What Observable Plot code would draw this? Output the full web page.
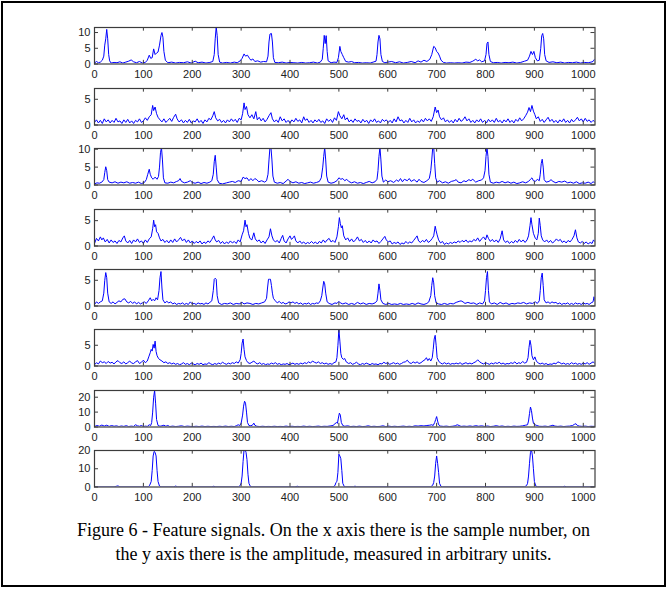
<!DOCTYPE html>
<html><head><meta charset="utf-8">
<script src="https://cdn.jsdelivr.net/npm/d3@7"></script>
<script src="https://cdn.jsdelivr.net/npm/@observablehq/plot@0.6"></script>
<style>
html,body{margin:0;padding:0;background:#fff;}
#fig{position:relative;width:667px;height:589px;overflow:hidden;background:#fff;}
#border{position:absolute;left:1px;top:1px;width:661px;height:582px;border:2px solid #000;}
#caption{position:absolute;left:0;width:667px;top:518px;text-align:center;font-family:"Liberation Serif","Times New Roman",serif;font-size:18px;line-height:24px;color:#000;}
</style></head><body>
<div id="fig"><div id="border"></div><div id="caption">Figure 6 - Feature signals. On the x axis there is the sample number, on<br>the y axis there is the amplitude, measured in arbitrary units.</div></div>
<script>
const xTicks = [0,100,200,300,400,500,600,700,800,900,1000];
const xMax = 1024;
const yMaxes = [11.6, 7.1, 10.2, 7.2, 7.1, 8.8, 24.5, 20];
const yTickSets = [[0,5,10],[0,5],[0,5,10],[0,5],[0,5],[0,5],[0,10,20],[0,10,20]];

const s1 = [[0,0.3],[4,0.8],[8,0.4],[12,0.6],[16,1.2],[19,2.5],[21,6],[23,8],[25,11],[27,8],[29,3],[31,1],[34,0.3],[40,0.5],[46,0.4],[52,0.7],[58,0.3],[64,0.6],[70,0.9],[75,1.3],[80,0.7],[86,0.4],[92,0.8],[98,0.3],[104,0.5],[108,1.2],[112,2.8],[115,1.8],[118,2],[121,4.8],[124,3],[127,3.5],[130,3.8],[133,6],[136,9],[138,10],[140,8.5],[142,4],[145,1.2],[150,0.4],[158,0.6],[166,0.3],[174,0.5],[182,0.4],[190,0.7],[198,0.3],[206,0.9],[212,0.4],[220,0.6],[228,0.3],[236,0.5],[242,0.8],[245,3],[247,8],[249,11.8],[251,9],[253,3],[256,0.6],[262,0.3],[270,0.5],[278,0.3],[286,0.6],[292,0.4],[298,1],[302,1.8],[306,3.2],[309,2.5],[313,2.8],[317,1.8],[320,1.2],[324,1.6],[328,0.8],[334,1],[340,0.6],[346,0.8],[352,0.7],[355,2.5],[357,7],[359,9.5],[362,9.7],[364,7],[366,2],[369,0.5],[376,0.4],[384,0.6],[392,0.3],[400,0.5],[408,0.4],[416,0.3],[424,0.5],[432,0.3],[440,0.4],[448,0.6],[456,0.3],[462,0.6],[466,1.5],[468,5],[470,9.1],[472,6.5],[474,9],[476,4],[478,1],[484,0.4],[490,0.6],[496,0.5],[499,2],[502,5.6],[504,4],[507,3],[510,2],[514,0.8],[520,0.6],[526,0.8],[532,0.4],[540,0.5],[548,0.3],[556,0.4],[564,0.3],[570,0.6],[576,0.9],[578,3],[580,7],[582,9.1],[584,8],[586,3],[589,0.8],[594,0.4],[600,0.6],[608,0.8],[616,0.4],[624,0.7],[632,0.3],[640,0.5],[648,0.8],[656,0.4],[662,1],[668,0.6],[674,1.2],[680,0.8],[686,1.5],[690,3],[694,5.6],[697,5.2],[700,4],[703,3.5],[706,2.5],[709,1.2],[714,0.5],[720,0.3],[728,0.4],[736,0.3],[744,0.4],[752,0.3],[760,0.6],[768,0.5],[774,0.9],[780,1.5],[784,1],[788,1.3],[792,0.7],[798,1],[801,3],[803,6.5],[805,7],[807,3],[810,0.8],[816,0.4],[824,0.5],[832,0.3],[840,0.5],[848,0.4],[856,0.6],[864,0.3],[872,0.5],[880,0.9],[886,1.2],[890,2.5],[893,4],[896,3],[899,4],[902,2],[906,1],[910,1.2],[913,5],[915,9],[917,9.7],[919,8],[921,3],[924,1],[930,0.5],[938,0.7],[946,0.4],[954,0.6],[962,0.3],[970,0.5],[978,0.4],[986,0.6],[994,0.3],[1002,0.5],[1010,0.4],[1016,0.6],[1020,0.8],[1023,1.5]];

const s2 = [[0,0.5],[4,1],[8,0.4],[12,0.9],[16,0.3],[20,1.2],[24,0.6],[28,1],[32,0.4],[36,0.9],[40,0.5],[44,1.3],[48,0.6],[52,0.8],[56,0.3],[60,1],[64,0.5],[68,1.1],[72,0.4],[76,0.8],[80,0.3],[84,0.9],[88,0.6],[92,1.2],[96,0.5],[100,0.8],[104,1.4],[108,0.9],[112,1.6],[116,2],[119,3.8],[121,2.8],[124,3.5],[127,2.2],[130,1.5],[134,1],[138,0.6],[142,1.2],[146,0.5],[150,0.9],[154,1.3],[158,0.7],[162,1.5],[166,2.1],[169,1.2],[173,0.6],[178,1],[182,0.4],[186,0.9],[190,0.5],[194,1.1],[198,0.4],[202,0.8],[206,0.6],[210,1.2],[214,0.5],[218,0.9],[222,0.3],[226,1],[230,0.6],[234,1.3],[238,1],[242,1.8],[245,2.6],[248,1.4],[252,0.8],[256,1.1],[260,0.5],[264,0.9],[268,0.4],[272,1],[276,0.6],[280,1.2],[284,0.7],[288,1.1],[292,0.5],[296,1.3],[300,1],[303,2.2],[306,4.3],[308,3],[311,3.6],[314,2],[318,1.4],[322,2],[326,1.2],[330,2.6],[333,1],[337,1.5],[341,0.8],[345,1.3],[349,0.6],[353,1.1],[357,1.8],[361,2.4],[364,1.2],[368,0.6],[372,1],[376,0.5],[380,1.6],[384,0.8],[388,1.2],[392,0.5],[396,0.9],[400,0.4],[404,1],[408,0.6],[412,1.3],[416,0.7],[420,1],[424,0.4],[428,1.6],[431,0.9],[435,1.2],[439,0.5],[443,0.9],[447,0.4],[451,1],[455,0.6],[459,1.1],[463,0.5],[467,0.8],[471,0.3],[475,1.2],[479,0.7],[483,1.1],[487,0.5],[491,1.4],[495,0.9],[499,2.6],[502,1.8],[506,1.2],[510,2],[513,1],[517,1.4],[521,0.6],[525,1],[529,0.5],[533,1.2],[537,0.7],[541,0.9],[545,0.4],[549,1.1],[553,0.6],[557,0.9],[561,0.3],[565,1],[569,0.6],[573,1.2],[577,0.5],[581,0.8],[585,0.4],[589,1.1],[593,0.7],[597,1],[601,0.5],[605,0.9],[609,0.4],[613,1.2],[617,0.6],[621,1.6],[625,0.8],[629,1],[633,0.4],[637,0.9],[641,0.5],[645,1.3],[649,0.6],[653,1],[657,0.4],[661,0.8],[665,0.5],[669,1.1],[673,0.6],[677,1.3],[681,0.8],[685,1.2],[689,0.7],[693,1.6],[697,3.5],[700,2.4],[703,2.9],[706,1.6],[710,1],[714,1.4],[718,0.6],[722,1],[726,0.5],[730,0.9],[734,0.4],[738,1.1],[742,0.6],[746,1.3],[750,0.7],[754,1],[758,1.6],[762,0.8],[766,1.2],[770,0.5],[774,0.9],[778,0.4],[782,1],[786,0.6],[790,1.2],[794,0.5],[798,0.9],[802,0.4],[806,1.1],[810,0.6],[814,1],[818,0.5],[822,1.3],[826,0.6],[830,0.9],[834,0.4],[838,1],[842,0.6],[846,1.2],[850,0.5],[854,0.9],[858,0.4],[862,1.1],[866,0.7],[870,1.4],[874,0.8],[878,1.2],[882,1.8],[886,2.5],[889,3.4],[892,2.6],[895,3.8],[898,2.7],[901,2],[904,1.2],[908,1.6],[912,0.7],[916,1.1],[920,0.5],[924,1],[928,1.5],[932,0.7],[936,1.1],[940,0.5],[944,0.9],[948,0.4],[952,1],[956,0.6],[960,1.2],[964,0.5],[968,0.9],[972,0.4],[976,1.1],[980,0.6],[984,1],[988,1.5],[992,0.8],[996,1.2],[1000,0.6],[1004,1.3],[1008,0.7],[1012,1],[1016,0.5],[1020,0.9],[1024,0.6]];

const s3 = [[0,0.3],[5,0.6],[10,0.5],[15,0.8],[19,1.5],[21,3.5],[23,5.1],[25,4],[27,1.5],[30,0.8],[36,0.6],[42,0.9],[48,0.5],[54,0.8],[60,0.6],[66,0.9],[72,0.5],[78,0.7],[84,0.5],[90,0.8],[96,0.4],[102,0.7],[106,1.5],[109,3],[112,4.4],[114,3],[117,2],[120,1.6],[124,2.2],[128,1.6],[131,2.4],[133,5],[135,9],[137,10.5],[139,7],[141,2],[144,0.6],[150,0.5],[156,0.8],[162,0.6],[168,1],[172,1.2],[175,1.8],[178,1],[184,0.6],[190,0.8],[196,1.2],[200,0.7],[206,0.5],[212,0.8],[218,0.4],[224,0.7],[230,0.5],[236,0.8],[240,1.2],[243,3],[245,6.5],[247,8.3],[249,5],[251,1.5],[255,0.5],[262,0.3],[270,0.6],[276,0.8],[282,1],[288,0.7],[294,1.2],[300,1],[304,2.2],[308,1.8],[312,2],[316,1.2],[320,1.8],[324,1.2],[328,1.8],[332,1.5],[336,0.9],[342,1.2],[348,0.8],[352,1.2],[355,3],[357,7],[359,10.5],[361,10.5],[363,7],[365,2.5],[368,0.8],[374,0.5],[380,0.7],[386,0.4],[392,1.1],[396,1.6],[400,1],[406,0.6],[412,0.9],[418,0.5],[424,0.7],[430,0.4],[436,0.6],[442,0.8],[448,0.5],[454,0.7],[460,1],[464,2],[467,5],[469,8],[471,10.5],[473,7],[475,2.5],[478,0.8],[484,0.5],[490,0.7],[496,1.2],[500,2],[504,1.6],[508,1.8],[512,1.2],[516,1.6],[520,1],[526,0.6],[532,0.9],[538,0.5],[544,0.7],[550,0.4],[556,0.7],[562,1],[568,0.6],[574,0.9],[578,1.6],[580,4],[582,8],[584,10.5],[586,7],[588,2.5],[591,0.8],[596,1.4],[600,0.9],[606,1.2],[612,0.7],[618,1.4],[622,1],[626,1.8],[630,0.9],[634,1.6],[640,1.2],[644,1.8],[648,1],[654,1.5],[660,0.8],[664,1.6],[668,1],[674,0.7],[680,1.2],[685,1.8],[688,4],[690,7],[692,10.5],[694,10.5],[696,6],[698,2],[701,0.8],[706,1.2],[712,0.6],[718,0.9],[724,0.5],[730,1],[736,1.2],[740,1.5],[744,0.8],[750,0.6],[756,1.2],[760,0.9],[766,1.5],[770,1.2],[774,1.6],[780,0.8],[786,1.2],[792,1.4],[796,2],[799,4],[801,8],[803,10.5],[805,8],[807,3],[810,0.8],[816,0.5],[822,0.8],[828,0.6],[834,1],[840,0.6],[846,0.9],[852,0.5],[858,0.8],[864,0.4],[870,0.6],[876,0.9],[882,0.6],[888,1],[892,1.6],[895,2],[898,1.2],[902,1],[906,1.6],[910,1.2],[912,3],[914,6],[916,7.2],[918,5],[920,1.5],[924,0.8],[930,1],[934,1.5],[938,1],[944,0.6],[950,1],[956,0.8],[962,1.1],[968,0.6],[974,0.8],[980,0.5],[986,0.9],[992,0.4],[998,0.6],[1004,0.5],[1010,0.8],[1016,0.4],[1020,0.9],[1024,0.6]];

const s4 = [[0,0.5],[4,1.5],[8,1],[12,1.8],[15,1.2],[18,1.6],[22,0.8],[26,1.3],[30,0.6],[34,1.2],[38,0.7],[42,1],[46,0.5],[50,1.1],[54,0.8],[58,1.6],[61,2],[64,1],[68,0.6],[72,1.1],[76,0.5],[80,1.2],[84,0.8],[88,1.4],[92,0.7],[96,1],[100,0.5],[104,1.2],[108,0.7],[112,1.4],[116,1.8],[119,3.4],[121,5.1],[123,3.8],[125,4.2],[127,2.8],[130,2.5],[133,1.6],[136,1],[140,1.3],[144,0.7],[148,1.1],[152,0.6],[156,1.2],[160,0.7],[164,1.4],[168,0.8],[172,1.2],[176,1.7],[180,1],[184,1.4],[188,0.7],[192,1.2],[196,0.6],[200,1],[204,0.5],[208,0.9],[212,0.6],[216,1],[220,0.4],[224,0.8],[228,0.5],[232,1],[236,0.7],[240,1.3],[244,2],[247,1.2],[250,0.8],[254,1.1],[258,0.5],[262,0.9],[266,0.4],[270,0.8],[274,0.5],[278,1],[282,0.6],[286,0.9],[290,0.5],[294,1.2],[298,0.8],[302,2.2],[305,3],[308,5.1],[310,3.8],[312,4.2],[315,2.5],[318,1.5],[322,1.2],[326,2.6],[329,1.4],[333,0.9],[337,1.2],[341,0.6],[345,1],[349,0.5],[353,1.2],[357,1.8],[360,3.4],[363,2],[366,1.2],[370,0.8],[374,1.1],[378,0.6],[382,1.5],[385,2.1],[388,1],[392,0.6],[396,1.4],[400,2],[403,1.3],[406,1.6],[409,2],[412,1],[416,0.6],[420,1],[424,0.5],[428,0.8],[432,0.4],[436,0.7],[440,0.5],[444,0.9],[448,0.5],[452,0.8],[456,0.4],[460,0.9],[464,0.6],[468,1.2],[472,0.7],[476,1.2],[480,1.5],[484,0.8],[488,1.1],[492,0.7],[496,1.8],[499,3.8],[501,5.6],[503,4.4],[505,3.6],[507,4],[510,2],[514,1.2],[518,1.6],[522,0.9],[526,1.4],[530,0.8],[534,1.2],[538,1.8],[542,1],[546,1.3],[550,0.7],[554,1.1],[558,0.6],[562,1],[566,0.6],[570,1.2],[574,0.8],[578,1],[582,0.5],[586,0.9],[590,1.4],[594,1.9],[597,1.2],[601,0.8],[605,1],[609,0.4],[613,0.7],[617,0.5],[621,0.8],[625,0.3],[629,0.6],[633,0.4],[637,0.9],[641,0.5],[645,0.8],[649,0.6],[653,1.1],[657,1.6],[660,2],[663,1],[667,0.7],[671,1.1],[675,0.8],[679,1.3],[683,0.7],[687,1],[691,1.5],[694,2],[697,3.9],[699,3],[701,2.2],[704,1.2],[708,0.6],[712,0.9],[716,0.3],[720,0.6],[724,0.4],[728,0.7],[732,0.5],[736,0.8],[740,0.6],[744,1],[748,0.7],[752,1.1],[756,0.8],[760,1.2],[764,0.7],[768,1],[772,0.8],[776,1.3],[780,1],[784,1.6],[788,0.9],[792,1.4],[796,1.8],[800,1.2],[803,2.2],[806,1.5],[810,0.9],[814,1.3],[818,0.8],[822,1.2],[826,0.7],[830,1.4],[834,3],[837,1.2],[841,0.7],[845,1],[849,0.5],[853,0.9],[857,0.6],[861,1.1],[865,0.7],[869,1.3],[873,0.8],[877,1.2],[881,0.7],[885,1.2],[888,2],[891,4],[893,5.6],[895,4.2],[898,2.5],[902,1.5],[905,1.2],[908,2.5],[910,5.5],[912,4],[914,2],[917,1.2],[921,0.8],[925,1.2],[929,0.7],[933,1.1],[937,0.6],[941,0.9],[945,1.4],[949,1],[953,1.3],[957,0.7],[961,1],[965,0.6],[969,1.1],[973,0.8],[977,1.3],[981,2],[984,3.2],[987,1.6],[990,0.8],[994,0.6],[998,0.9],[1002,0.5],[1006,0.8],[1010,0.4],[1014,0.7],[1018,0.5],[1021,1.2],[1024,0.8]];

const s5 = [[0,0.3],[4,0.8],[8,0.5],[12,0.8],[16,1],[19,2.5],[21,5],[23,6.5],[25,5.5],[27,2.5],[30,0.8],[34,0.5],[38,0.8],[42,0.4],[46,0.7],[50,1],[54,0.8],[58,1.3],[62,1.4],[66,0.8],[70,0.6],[74,0.9],[78,0.5],[82,0.8],[86,0.4],[90,0.7],[94,0.4],[98,0.6],[102,0.8],[106,0.5],[110,1],[114,1.6],[117,1],[120,1.3],[123,1],[126,1.6],[129,1.2],[132,3],[134,5.5],[136,6.7],[138,3.5],[140,1.2],[144,0.6],[148,0.9],[152,0.6],[156,0.8],[160,0.4],[164,0.6],[168,0.3],[172,0.5],[176,0.4],[180,0.6],[184,0.3],[188,0.5],[192,0.3],[196,0.8],[200,0.4],[204,0.5],[208,0.3],[212,0.6],[216,0.4],[220,0.5],[224,0.3],[228,0.6],[232,0.4],[236,0.7],[240,1],[243,3],[245,5.2],[247,5.4],[249,5.2],[251,2],[254,0.6],[260,0.3],[266,0.5],[272,0.4],[278,0.6],[284,0.3],[290,0.5],[296,0.4],[302,0.7],[306,0.4],[312,0.6],[318,0.5],[324,0.3],[330,0.5],[336,0.4],[342,0.6],[348,0.8],[352,1.5],[354,3.5],[356,5.2],[358,5.2],[360,5.2],[362,4],[364,2.5],[366,1.5],[370,1],[374,0.6],[378,0.9],[382,0.5],[386,0.7],[390,0.4],[394,0.5],[398,0.8],[402,0.6],[406,0.8],[410,0.5],[414,0.7],[418,0.4],[422,0.6],[426,0.3],[430,0.5],[434,0.4],[438,0.6],[442,0.3],[446,0.5],[450,0.4],[454,0.6],[458,0.5],[462,1],[465,2],[467,3.5],[469,4.8],[471,4.3],[473,2.5],[476,0.8],[480,0.5],[486,0.3],[492,0.6],[496,0.5],[500,0.9],[503,0.6],[508,0.4],[514,0.6],[520,0.3],[526,0.5],[532,0.3],[538,0.7],[544,0.4],[550,0.6],[556,0.3],[562,0.5],[568,0.4],[574,0.6],[578,1],[580,2.5],[582,4.3],[584,3],[586,1.2],[590,0.5],[596,0.3],[602,0.5],[608,0.3],[614,0.4],[620,0.3],[626,0.5],[632,0.3],[638,0.4],[644,0.3],[650,0.5],[656,0.3],[662,0.6],[668,0.4],[674,0.3],[680,0.5],[684,0.8],[688,2],[690,4],[692,5.5],[694,4.5],[696,2],[699,0.6],[704,0.4],[710,0.3],[716,0.5],[722,0.3],[728,0.5],[734,0.4],[740,0.7],[746,0.9],[750,1],[754,0.8],[758,0.5],[764,0.7],[770,0.5],[776,0.6],[782,0.3],[788,0.6],[794,0.4],[798,1],[800,3],[802,5.5],[804,6.7],[806,3],[808,0.8],[812,0.4],[818,0.6],[824,0.3],[830,0.7],[836,0.4],[842,0.6],[848,0.3],[854,0.5],[860,0.4],[866,0.6],[872,0.5],[878,0.7],[884,0.4],[890,0.6],[896,0.5],[902,0.8],[906,0.5],[910,1],[912,3],[914,5.5],[916,6.4],[918,4],[920,1.2],[924,0.6],[928,0.8],[932,0.5],[936,0.8],[940,0.6],[944,0.7],[948,0.4],[952,0.6],[956,0.3],[960,0.5],[964,0.4],[968,0.6],[972,0.3],[976,0.5],[980,0.3],[984,0.6],[988,0.4],[992,0.5],[996,0.3],[1000,0.6],[1004,0.4],[1008,0.5],[1012,0.3],[1016,0.6],[1020,0.8],[1022,1.8],[1024,1]];

const s6 = [[0,0.3],[4,0.8],[8,0.5],[12,1.2],[16,0.8],[20,1],[24,0.6],[28,1.1],[32,0.7],[36,0.9],[40,0.5],[44,1],[48,1.3],[52,0.8],[56,0.6],[60,1],[64,0.5],[68,0.8],[72,1.2],[76,0.7],[80,0.6],[84,1],[88,1.3],[92,0.6],[96,0.9],[100,1.4],[104,0.8],[108,1.2],[111,2.2],[114,3.2],[116,4],[118,3.6],[120,5.2],[122,4.3],[124,6],[126,3.5],[128,2.5],[131,1.8],[134,1.5],[138,1.2],[142,0.8],[146,1],[150,0.6],[154,0.8],[158,0.5],[162,0.7],[166,0.4],[170,0.6],[174,0.3],[178,0.5],[182,0.8],[186,0.4],[190,0.6],[194,0.3],[198,0.7],[202,0.5],[206,0.3],[210,0.6],[214,0.4],[218,0.7],[222,0.3],[226,0.5],[230,0.4],[234,0.8],[238,0.5],[242,0.3],[246,0.6],[250,0.4],[254,0.7],[258,0.5],[262,0.9],[266,0.6],[270,0.4],[274,0.7],[278,0.5],[282,0.8],[286,0.6],[290,1],[294,0.7],[298,1.5],[300,3],[302,5.5],[304,6.5],[306,4],[308,2.2],[311,1.3],[314,0.8],[318,0.6],[322,0.9],[326,1.2],[330,0.7],[334,0.5],[338,0.8],[342,0.4],[346,0.6],[350,0.3],[354,0.5],[358,0.4],[362,0.7],[366,0.5],[370,0.8],[374,0.4],[378,0.6],[382,0.3],[386,0.5],[390,0.4],[394,0.6],[398,0.3],[402,0.5],[406,0.7],[410,0.4],[414,0.6],[418,0.4],[422,0.7],[426,0.5],[430,0.8],[434,0.6],[438,1],[442,0.7],[446,1.2],[450,0.9],[454,0.7],[458,1],[462,0.6],[466,0.8],[470,0.5],[474,0.7],[478,0.4],[482,0.6],[486,0.4],[490,0.8],[494,1],[496,2],[498,5],[500,8.8],[502,6],[504,3],[506,2],[509,1.6],[512,1.8],[515,1],[520,0.6],[524,0.8],[528,0.4],[532,0.6],[536,0.9],[540,0.5],[544,0.3],[548,0.6],[552,0.4],[556,0.7],[560,0.5],[564,0.3],[568,0.6],[572,0.4],[576,0.5],[580,0.3],[584,0.6],[588,0.5],[592,0.9],[596,0.6],[600,0.8],[604,0.4],[608,0.6],[612,0.8],[616,0.5],[620,0.7],[624,0.4],[628,0.6],[632,0.9],[636,1],[640,1.4],[644,0.8],[648,0.6],[652,1],[656,0.7],[660,1],[664,0.6],[668,0.8],[672,1.2],[676,1.5],[679,2],[682,1.3],[685,1.8],[688,1.2],[691,2],[693,4],[695,6.5],[697,7.4],[699,5],[701,2],[704,1.2],[708,0.7],[712,0.5],[716,0.8],[720,0.5],[724,0.7],[728,0.4],[732,0.6],[736,0.5],[740,0.7],[744,0.5],[748,0.8],[752,0.4],[756,0.6],[760,0.8],[764,0.5],[768,0.7],[772,0.5],[776,0.8],[780,1],[784,1.5],[788,1],[792,0.7],[796,0.5],[800,0.8],[804,0.6],[808,0.4],[812,0.7],[816,0.5],[820,0.8],[824,0.6],[828,0.9],[832,0.5],[836,0.7],[840,0.4],[844,0.6],[848,0.5],[852,0.8],[856,0.6],[860,1],[864,0.5],[868,0.8],[872,0.6],[876,1.1],[880,0.7],[884,0.9],[887,2],[889,4.5],[891,6.2],[893,5],[895,2.5],[898,1.5],[901,2.2],[904,1.2],[908,0.7],[912,0.5],[916,0.7],[920,0.4],[924,0.6],[928,0.3],[932,0.5],[936,0.4],[940,0.7],[944,0.5],[948,1],[952,0.8],[956,0.5],[960,0.7],[964,0.4],[968,0.6],[972,0.4],[976,0.8],[980,0.5],[984,0.7],[988,0.4],[992,0.6],[996,0.4],[1000,0.7],[1004,0.5],[1008,0.8],[1012,0.4],[1016,0.7],[1020,1],[1024,0.6]];

const s7 = [[0,0.3],[5,1],[10,0.5],[15,1.3],[20,0.6],[25,1.2],[30,0.4],[35,1],[40,0.5],[45,0.8],[50,0.3],[55,0.7],[60,0.4],[65,0.9],[70,0.3],[75,0.6],[80,0.4],[84,1.5],[88,0.8],[92,0.5],[96,1],[100,0.3],[104,0.6],[108,0.4],[112,1.5],[115,1],[117,3],[119,10],[121,20],[123,24.5],[125,16],[127,5],[130,1],[134,0.5],[138,0.8],[142,1.2],[146,0.5],[150,1],[154,0.3],[160,0.6],[166,0.3],[172,0.5],[178,0.8],[184,0.3],[190,0.6],[196,0.4],[202,0.3],[208,0.5],[214,0.3],[220,0.6],[226,0.3],[232,0.5],[238,0.3],[244,0.4],[250,0.3],[256,0.5],[262,0.3],[268,0.6],[274,0.3],[280,0.5],[286,0.3],[290,0.8],[294,1.5],[297,1],[300,2.5],[303,8],[305,14],[307,17.3],[309,16],[311,10],[313,3],[316,1],[320,0.8],[324,1.5],[326,2.6],[328,1.2],[332,0.5],[338,0.3],[344,0.5],[350,0.3],[356,0.4],[362,0.3],[368,0.5],[374,0.3],[380,0.4],[386,0.3],[392,0.6],[398,0.3],[404,0.5],[410,0.3],[416,0.4],[422,0.3],[428,0.6],[434,0.3],[440,0.5],[446,0.3],[452,0.4],[458,0.6],[464,0.3],[470,0.5],[476,0.4],[482,0.7],[488,1],[492,2.2],[495,3],[497,2.5],[499,6],[501,9.3],[503,8],[505,3],[508,1],[512,0.5],[518,0.8],[524,0.3],[530,0.5],[536,0.3],[542,0.6],[548,0.3],[554,0.4],[560,0.8],[566,0.3],[572,0.5],[578,0.3],[584,0.4],[590,0.8],[596,0.3],[602,0.6],[608,0.3],[614,0.5],[620,0.3],[626,0.4],[632,0.6],[638,0.3],[644,0.5],[650,0.3],[656,0.8],[662,0.6],[668,0.9],[674,0.7],[680,1],[686,1.2],[690,1.5],[693,1],[696,3],[698,5],[700,7],[702,4],[704,1.5],[708,0.6],[714,0.4],[720,0.6],[726,0.3],[732,0.5],[738,0.8],[742,1.5],[746,1],[750,0.4],[756,0.6],[762,0.4],[768,0.7],[774,0.4],[780,0.9],[786,0.5],[792,0.8],[798,0.4],[804,0.7],[810,0.3],[816,0.5],[822,0.9],[828,0.4],[834,0.7],[840,0.3],[846,0.5],[852,0.3],[858,0.6],[864,0.4],[870,0.5],[876,0.8],[882,1.2],[886,1.5],[888,4],[890,9],[892,13.4],[894,11],[896,6],[898,2.5],[901,1.5],[905,1],[910,0.5],[916,0.4],[922,0.6],[928,0.3],[934,0.8],[938,1.2],[942,0.6],[948,0.4],[954,0.6],[960,0.3],[966,0.5],[972,0.6],[978,1],[982,1.8],[985,2.2],[988,1],[992,0.6],[998,0.4],[1004,0.6],[1010,0.3],[1016,0.5],[1020,0.4],[1024,0.5]];

const s8 = [[0,0.1],[40,0.1],[48,0.6],[52,0.1],[110,0.1],[113,1],[116,3],[118,9],[120,17],[122,19.5],[124,19],[126,17],[128,9],[130,3],[133,0.5],[136,0.1],[162,0.1],[166,0.5],[170,0.1],[240,0.1],[244,0.4],[248,0.1],[295,0.1],[298,0.8],[300,2],[302,6],[304,14],[306,20.5],[308,20.5],[310,19],[312,15],[314,7],[316,2],[319,0.3],[322,0.1],[410,0.1],[415,0.4],[420,0.1],[488,0.1],[492,0.8],[494,2.5],[496,3],[498,8],[500,18],[502,17],[504,15.5],[506,9],[508,2],[511,0.3],[514,0.1],[530,0.1],[533,0.5],[536,0.1],[688,0.1],[692,1],[694,2.5],[696,6],[698,13],[700,17],[702,13],[704,8],[706,2],[709,0.3],[712,0.1],[880,0.1],[884,0.8],[886,2],[888,6],[890,13],[892,19],[894,20.5],[896,17],[898,10],[900,3],[903,0.5],[906,0.1],[958,0.1],[962,0.4],[966,0.1],[1024,0.1]];

const signals = [s1, s2, s3, s4, s5, s6, s7, s8];

const fig = document.getElementById("fig");
const panelTop0 = 27.3, panelPitch = 60.4, panelH = 36.5;
const mTop = 4, mBottom = 20, mLeft = 94, mRight = 72.5;
const axisColor = "#3c3c3c";

signals.forEach((data, i) => {
  const ym = yMaxes[i];
  const yt = yTickSets[i];
  const tx = 0.008 * xMax, ty = 0.1 * ym;
  const svg = Plot.plot({
    width: 667,
    height: mTop + panelH + mBottom,
    marginTop: mTop, marginBottom: mBottom, marginLeft: mLeft, marginRight: mRight,
    x: {domain: [0, xMax]},
    y: {domain: [0, ym]},
    style: {position: "absolute", left: "0px", top: (panelTop0 + i * panelPitch - mTop) + "px",
            background: "transparent", fontFamily: "'Liberation Sans', Arial, sans-serif",
            fontSize: "11px", color: "#222", overflow: "visible"},
    marks: [
      Plot.line(data, {x: "0", y: "1", stroke: "#0000ff", strokeWidth: 1, clip: true}),
      Plot.ruleX(xTicks, {x: d => d, y1: 0, y2: ty, stroke: axisColor}),
      Plot.ruleX(xTicks, {x: d => d, y1: ym - ty, y2: ym, stroke: axisColor}),
      Plot.ruleY(yt, {y: d => d, x1: 0, x2: tx, stroke: axisColor}),
      Plot.ruleY(yt, {y: d => d, x1: xMax - tx, x2: xMax, stroke: axisColor}),
      Plot.frame({stroke: axisColor, strokeWidth: 1.2}),
      Plot.axisX(xTicks, {tickSize: 0, tickPadding: 6, label: null, tickFormat: d => String(d)}),
      Plot.axisY(yt, {tickSize: 0, tickPadding: 4, label: null, tickFormat: d => String(d)})
    ]
  });
  fig.appendChild(svg);
});
</script>
</body></html>
